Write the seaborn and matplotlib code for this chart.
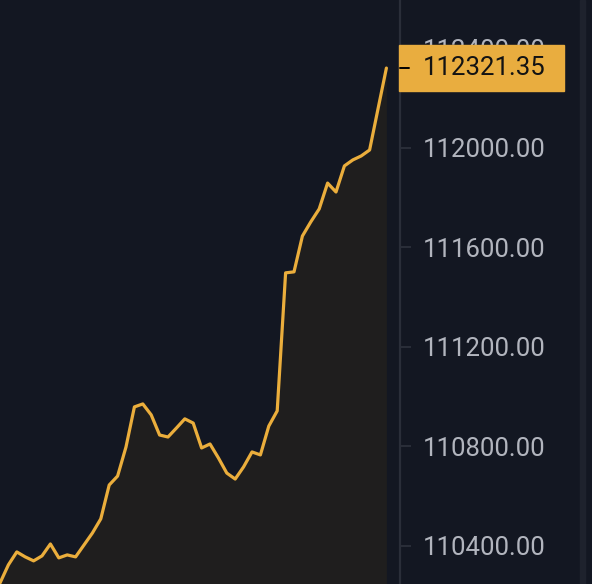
import numpy as np
import pandas as pd
import matplotlib
matplotlib.use("Agg")
import matplotlib.pyplot as plt
import matplotlib.patches as mpatches
from matplotlib.lines import Line2D
from matplotlib.transforms import blended_transform_factory
import seaborn as sns

# price series (one point per bar)
prices = [
    110251, 110324, 110376, 110356, 110340, 110360, 110408, 110352, 110364, 110356,
    110404, 110452, 110509, 110645, 110681, 110798, 110959, 110971, 110927, 110846,
    110838, 110874, 110911, 110894, 110794, 110810, 110754, 110693, 110669, 110718,
    110778, 110766, 110882, 110943, 111498, 111502, 111646, 111703, 111755, 111859,
    111823, 111928, 111952, 111968, 111992, 112157, 112321.35,
]
y_ticks = [110400, 110800, 111200, 111600, 112000, 112400]
last_price = prices[-1]

BG = "#131722"
FILL = "#1f1e1e"
LINE = "#ebae3c"
GRID = "#2a2e39"
TXT = "#b2b5be"

df = pd.DataFrame({"bar": np.arange(len(prices)), "price": prices})

sns.set_style("dark")
plt.rcParams["font.family"] = ["Roboto", "DejaVu Sans"]

W, H = 592, 584
fig = plt.figure(figsize=(W / 100, H / 100), dpi=100, facecolor=BG)
ax = fig.add_axes([0, 0, 400 / W, 1])
ax.set_facecolor(BG)

ymin, ymax = 110247, 112595
ax.fill_between(df["bar"], df["price"], ymin - 100, color=FILL, lw=0, zorder=1)
sns.lineplot(data=df, x="bar", y="price", ax=ax, color=LINE, lw=2.3, zorder=3)

ax.set_xlim(0, 400 / 8.4)
ax.set_ylim(ymin, ymax)
ax.set_xlabel("")
ax.set_ylabel("")
ax.set_xticks([])
ax.grid(False)

ax.yaxis.tick_right()
ax.set_yticks(y_ticks)
ax.set_yticklabels([f"{t:.2f}" for t in y_ticks])
ax.tick_params(axis="y", which="both", right=True, left=False, length=8, width=1.4,
               color=GRID, labelcolor=TXT, labelsize=18.5, pad=8.5)

for side in ["top", "left", "bottom"]:
    ax.spines[side].set_visible(False)
ax.spines["right"].set_color(GRID)
ax.spines["right"].set_linewidth(1.6)

# thin divider strip at the far right
fig.patches.append(mpatches.Rectangle((580 / W, 0), 5 / W, 1, transform=fig.transFigure,
                                      color="#1e222d", zorder=1))

# last price tag
tr = blended_transform_factory(fig.transFigure, ax.transData)
box_h = 46 * (ymax - ymin) / H
fig.patches.append(mpatches.Rectangle((399 / W, last_price - box_h / 2), 165 / W, box_h,
                                      transform=tr, color="#e9ad3f", zorder=5))
fig.add_artist(Line2D([400 / W, 409 / W], [last_price, last_price], transform=tr,
                      color="black", lw=1.4, zorder=6))
fig.text(423 / W, last_price, f"{last_price:.2f}", transform=tr, va="center", ha="left",
         fontsize=18.5, color="#131313", zorder=7)

plt.savefig("out.png", dpi=100, facecolor=BG)
plt.close()
